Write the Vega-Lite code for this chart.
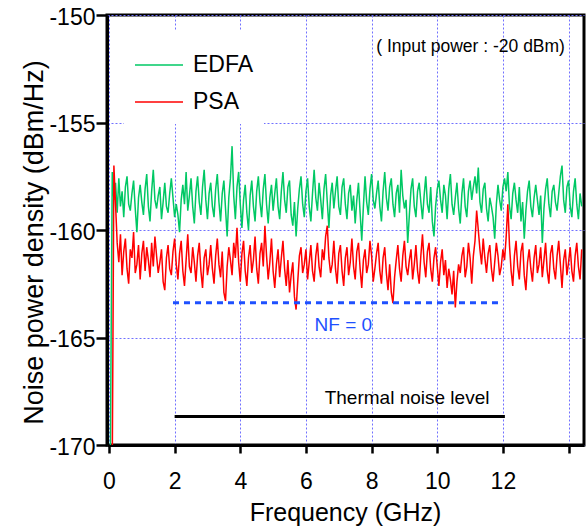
{
"$schema":"https://vega.github.io/schema/vega-lite/v6.json",
"width":477,"height":430,
"autosize":{"type":"none"},
"padding":{"left":107,"top":15,"right":3,"bottom":81},
"background":"white",
"config":{"font":"Liberation Sans","view":{"stroke":"black","strokeWidth":3}},
"datasets":{
"trace":[
{"f":0.04,"EDFA":-171},
{"f":0.1,"EDFA":-157.3,"PSA":-171},{"f":0.15,"EDFA":-158.6,"PSA":-157.0},{"f":0.2,"EDFA":-157.8,"PSA":-158.8},{"f":0.25,"EDFA":-159.2,"PSA":-160.6},{"f":0.3,"EDFA":-157.6,"PSA":-161.5},{"f":0.35,"EDFA":-158.9,"PSA":-160.2},{"f":0.4,"EDFA":-158.2,"PSA":-162.1},{"f":0.45,"EDFA":-159.4,"PSA":-161.0},{"f":0.5,"EDFA":-158.0,"PSA":-160.4},{"f":0.55,"EDFA":-157.5,"PSA":-161.8},{"f":0.6,"EDFA":-158.8,"PSA":-162.5},{"f":0.65,"EDFA":-159.1,"PSA":-160.9},{"f":0.7,"EDFA":-158.3,"PSA":-161.3},{"f":0.75,"EDFA":-157.7,"PSA":-160.1},{"f":0.8,"EDFA":-159.0,"PSA":-162.0},{"f":0.85,"EDFA":-160.1,"PSA":-161.6},{"f":0.9,"EDFA":-158.5,"PSA":-160.7},{"f":0.95,"EDFA":-157.9,"PSA":-162.3},{"f":1.0,"EDFA":-158.7,"PSA":-161.1},{"f":1.05,"EDFA":-159.3,"PSA":-160.5},
{"f":1.1,"EDFA":-158.1,"PSA":-161.9},{"f":1.15,"EDFA":-157.4,"PSA":-160.8},{"f":1.2,"EDFA":-158.9,"PSA":-161.4},{"f":1.25,"EDFA":-159.6,"PSA":-162.2},{"f":1.3,"EDFA":-158.2,"PSA":-160.6},{"f":1.35,"EDFA":-157.2,"PSA":-161.7},{"f":1.4,"EDFA":-158.6,"PSA":-160.3},{"f":1.45,"EDFA":-159.0,"PSA":-161.2},{"f":1.5,"EDFA":-158.4,"PSA":-162.0},{"f":1.55,"EDFA":-158.0,"PSA":-161.5},{"f":1.6,"EDFA":-159.5,"PSA":-160.9},{"f":1.65,"EDFA":-158.7,"PSA":-162.4},{"f":1.7,"EDFA":-157.8,"PSA":-162.8},{"f":1.75,"EDFA":-158.9,"PSA":-161.3},{"f":1.8,"EDFA":-159.2,"PSA":-160.7},{"f":1.85,"EDFA":-158.3,"PSA":-161.8},{"f":1.9,"EDFA":-157.6,"PSA":-162.1},{"f":1.95,"EDFA":-158.5,"PSA":-161.0},{"f":2.0,"EDFA":-159.4,"PSA":-160.4},{"f":2.05,"EDFA":-158.8,"PSA":-161.6},
{"f":2.1,"EDFA":-159.3,"PSA":-162.3},{"f":2.15,"EDFA":-160.1,"PSA":-161.1},{"f":2.2,"EDFA":-158.6,"PSA":-160.5},{"f":2.25,"EDFA":-157.9,"PSA":-161.9},{"f":2.3,"EDFA":-158.8,"PSA":-162.6},{"f":2.35,"EDFA":-157.3,"PSA":-161.4},{"f":2.4,"EDFA":-159.1,"PSA":-160.2},{"f":2.45,"EDFA":-158.4,"PSA":-161.7},{"f":2.5,"EDFA":-157.6,"PSA":-162.0},{"f":2.55,"EDFA":-158.9,"PSA":-160.8},{"f":2.6,"EDFA":-159.7,"PSA":-161.5},{"f":2.65,"EDFA":-158.2,"PSA":-162.4},{"f":2.7,"EDFA":-157.5,"PSA":-161.2},{"f":2.75,"EDFA":-158.7,"PSA":-160.6},{"f":2.8,"EDFA":-159.3,"PSA":-161.9},{"f":2.85,"EDFA":-158.0,"PSA":-162.7},{"f":2.9,"EDFA":-157.2,"PSA":-161.3},{"f":2.95,"EDFA":-158.6,"PSA":-160.9},{"f":3.0,"EDFA":-159.5,"PSA":-162.1},{"f":3.05,"EDFA":-158.3,"PSA":-161.6},
{"f":3.1,"EDFA":-157.8,"PSA":-160.7},{"f":3.15,"EDFA":-158.9,"PSA":-161.8},{"f":3.2,"EDFA":-159.4,"PSA":-162.5},{"f":3.25,"EDFA":-158.1,"PSA":-161.2},{"f":3.3,"EDFA":-157.4,"PSA":-160.4},{"f":3.35,"EDFA":-158.7,"PSA":-161.6},{"f":3.4,"EDFA":-159.6,"PSA":-162.2},{"f":3.45,"EDFA":-158.3,"PSA":-161.0},{"f":3.5,"EDFA":-157.7,"PSA":-162.9},{"f":3.55,"EDFA":-159.0,"PSA":-163.3},{"f":3.6,"EDFA":-160.3,"PSA":-161.7},{"f":3.65,"EDFA":-158.5,"PSA":-160.8},{"f":3.7,"EDFA":-157.6,"PSA":-161.4},{"f":3.75,"EDFA":-156.1,"PSA":-162.1},{"f":3.8,"EDFA":-158.4,"PSA":-160.6},{"f":3.85,"EDFA":-159.5,"PSA":-161.3},{"f":3.9,"EDFA":-158.0,"PSA":-159.9},{"f":3.95,"EDFA":-157.3,"PSA":-161.5},{"f":4.0,"EDFA":-158.8,"PSA":-162.4},{"f":4.05,"EDFA":-159.9,"PSA":-161.1},
{"f":4.1,"EDFA":-158.6,"PSA":-160.5},{"f":4.15,"EDFA":-157.9,"PSA":-161.9},{"f":4.2,"EDFA":-159.2,"PSA":-162.6},{"f":4.25,"EDFA":-160.0,"PSA":-161.3},{"f":4.3,"EDFA":-158.4,"PSA":-160.7},{"f":4.35,"EDFA":-157.7,"PSA":-162.0},{"f":4.4,"EDFA":-158.9,"PSA":-161.4},{"f":4.45,"EDFA":-159.6,"PSA":-160.3},{"f":4.5,"EDFA":-158.2,"PSA":-161.8},{"f":4.55,"EDFA":-157.5,"PSA":-162.5},{"f":4.6,"EDFA":-158.7,"PSA":-161.1},{"f":4.65,"EDFA":-159.4,"PSA":-160.6},{"f":4.7,"EDFA":-158.1,"PSA":-161.7},{"f":4.75,"EDFA":-157.4,"PSA":-159.8},{"f":4.8,"EDFA":-158.8,"PSA":-161.2},{"f":4.85,"EDFA":-159.7,"PSA":-162.3},{"f":4.9,"EDFA":-158.5,"PSA":-161.5},{"f":4.95,"EDFA":-157.9,"PSA":-160.4},{"f":5.0,"EDFA":-159.1,"PSA":-161.9},{"f":5.05,"EDFA":-158.3,"PSA":-162.7},
{"f":5.1,"EDFA":-157.6,"PSA":-161.6},{"f":5.15,"EDFA":-158.9,"PSA":-160.9},{"f":5.2,"EDFA":-159.5,"PSA":-162.2},{"f":5.25,"EDFA":-158.2,"PSA":-161.3},{"f":5.3,"EDFA":-157.3,"PSA":-160.5},{"f":5.35,"EDFA":-158.6,"PSA":-161.8},{"f":5.4,"EDFA":-159.2,"PSA":-162.6},{"f":5.45,"EDFA":-158.0,"PSA":-161.4},{"f":5.5,"EDFA":-157.7,"PSA":-162.9},{"f":5.55,"EDFA":-159.3,"PSA":-162.1},{"f":5.6,"EDFA":-159.8,"PSA":-161.5},{"f":5.65,"EDFA":-158.7,"PSA":-163.1},{"f":5.7,"EDFA":-160.3,"PSA":-163.7},{"f":5.75,"EDFA":-159.0,"PSA":-162.4},{"f":5.8,"EDFA":-158.1,"PSA":-161.2},{"f":5.85,"EDFA":-157.5,"PSA":-160.8},{"f":5.9,"EDFA":-158.8,"PSA":-162.0},{"f":5.95,"EDFA":-159.4,"PSA":-161.6},{"f":6.0,"EDFA":-158.2,"PSA":-160.9},{"f":6.05,"EDFA":-157.6,"PSA":-162.3},
{"f":6.1,"EDFA":-158.9,"PSA":-161.5},{"f":6.15,"EDFA":-159.6,"PSA":-160.7},{"f":6.2,"EDFA":-158.3,"PSA":-161.9},{"f":6.25,"EDFA":-157.2,"PSA":-162.4},{"f":6.3,"EDFA":-158.5,"PSA":-161.2},{"f":6.35,"EDFA":-159.1,"PSA":-160.6},{"f":6.4,"EDFA":-157.8,"PSA":-161.7},{"f":6.45,"EDFA":-158.6,"PSA":-162.2},{"f":6.5,"EDFA":-159.5,"PSA":-160.9},{"f":6.55,"EDFA":-158.1,"PSA":-161.4},{"f":6.6,"EDFA":-157.4,"PSA":-160.3},{"f":6.65,"EDFA":-158.7,"PSA":-159.8},{"f":6.7,"EDFA":-159.9,"PSA":-161.3},{"f":6.75,"EDFA":-158.4,"PSA":-162.0},{"f":6.8,"EDFA":-157.8,"PSA":-161.6},{"f":6.85,"EDFA":-159.0,"PSA":-160.5},{"f":6.9,"EDFA":-158.2,"PSA":-161.8},{"f":6.95,"EDFA":-157.5,"PSA":-162.5},{"f":7.0,"EDFA":-158.9,"PSA":-161.1},{"f":7.05,"EDFA":-159.3,"PSA":-160.7},
{"f":7.1,"EDFA":-158.0,"PSA":-161.9},{"f":7.15,"EDFA":-157.6,"PSA":-162.6},{"f":7.2,"EDFA":-158.8,"PSA":-161.3},{"f":7.25,"EDFA":-159.5,"PSA":-160.8},{"f":7.3,"EDFA":-158.3,"PSA":-162.1},{"f":7.35,"EDFA":-157.9,"PSA":-161.5},{"f":7.4,"EDFA":-159.1,"PSA":-160.4},{"f":7.45,"EDFA":-158.4,"PSA":-161.7},{"f":7.5,"EDFA":-159.7,"PSA":-162.3},{"f":7.55,"EDFA":-158.6,"PSA":-161.0},{"f":7.6,"EDFA":-157.8,"PSA":-160.6},{"f":7.65,"EDFA":-159.2,"PSA":-161.8},{"f":7.7,"EDFA":-160.5,"PSA":-162.7},{"f":7.75,"EDFA":-158.9,"PSA":-161.4},{"f":7.8,"EDFA":-157.5,"PSA":-160.9},{"f":7.85,"EDFA":-158.7,"PSA":-162.0},{"f":7.9,"EDFA":-159.3,"PSA":-161.6},{"f":7.95,"EDFA":-158.1,"PSA":-160.5},{"f":8.0,"EDFA":-157.4,"PSA":-161.2},{"f":8.05,"EDFA":-158.6,"PSA":-162.4},
{"f":8.1,"EDFA":-159.0,"PSA":-161.8},{"f":8.15,"EDFA":-158.3,"PSA":-161.1},{"f":8.2,"EDFA":-157.7,"PSA":-160.6},{"f":8.25,"EDFA":-158.9,"PSA":-161.9},{"f":8.3,"EDFA":-159.6,"PSA":-162.5},{"f":8.35,"EDFA":-158.2,"PSA":-161.3},{"f":8.4,"EDFA":-157.3,"PSA":-160.8},{"f":8.45,"EDFA":-158.5,"PSA":-162.0},{"f":8.5,"EDFA":-159.1,"PSA":-162.8},{"f":8.55,"EDFA":-158.0,"PSA":-161.6},{"f":8.6,"EDFA":-157.6,"PSA":-162.9},{"f":8.65,"EDFA":-158.8,"PSA":-163.4},{"f":8.7,"EDFA":-159.4,"PSA":-162.2},{"f":8.75,"EDFA":-158.3,"PSA":-161.4},{"f":8.8,"EDFA":-157.9,"PSA":-160.7},{"f":8.85,"EDFA":-159.2,"PSA":-161.8},{"f":8.9,"EDFA":-157.2,"PSA":-162.4},{"f":8.95,"EDFA":-158.4,"PSA":-161.2},{"f":9.0,"EDFA":-159.0,"PSA":-160.5},{"f":9.05,"EDFA":-158.6,"PSA":-161.7},
{"f":9.1,"EDFA":-160.6,"PSA":-162.1},{"f":9.15,"EDFA":-159.3,"PSA":-161.4},{"f":9.2,"EDFA":-158.1,"PSA":-160.9},{"f":9.25,"EDFA":-157.6,"PSA":-162.3},{"f":9.3,"EDFA":-158.9,"PSA":-161.6},{"f":9.35,"EDFA":-159.4,"PSA":-160.7},{"f":9.4,"EDFA":-158.2,"PSA":-161.9},{"f":9.45,"EDFA":-157.8,"PSA":-162.5},{"f":9.5,"EDFA":-158.7,"PSA":-161.2},{"f":9.55,"EDFA":-159.5,"PSA":-160.2},{"f":9.6,"EDFA":-158.4,"PSA":-161.5},{"f":9.65,"EDFA":-157.5,"PSA":-162.2},{"f":9.7,"EDFA":-158.8,"PSA":-161.0},{"f":9.75,"EDFA":-159.2,"PSA":-160.6},{"f":9.8,"EDFA":-158.0,"PSA":-161.8},{"f":9.85,"EDFA":-159.6,"PSA":-162.4},{"f":9.9,"EDFA":-160.3,"PSA":-161.3},{"f":9.95,"EDFA":-158.9,"PSA":-160.8},{"f":10.0,"EDFA":-158.1,"PSA":-161.7},{"f":10.05,"EDFA":-157.7,"PSA":-162.6},
{"f":10.1,"EDFA":-158.6,"PSA":-161.5},{"f":10.15,"EDFA":-159.2,"PSA":-160.9},{"f":10.2,"EDFA":-157.9,"PSA":-162.1},{"f":10.25,"EDFA":-158.4,"PSA":-161.4},{"f":10.3,"EDFA":-159.5,"PSA":-162.7},{"f":10.35,"EDFA":-158.1,"PSA":-161.8},{"f":10.4,"EDFA":-157.4,"PSA":-162.3},{"f":10.45,"EDFA":-158.8,"PSA":-163.0},{"f":10.5,"EDFA":-159.3,"PSA":-161.9},{"f":10.55,"EDFA":-158.5,"PSA":-163.6},{"f":10.6,"EDFA":-157.8,"PSA":-162.4},{"f":10.65,"EDFA":-159.0,"PSA":-161.6},{"f":10.7,"EDFA":-159.7,"PSA":-162.0},{"f":10.75,"EDFA":-158.3,"PSA":-161.2},{"f":10.8,"EDFA":-157.6,"PSA":-160.8},{"f":10.85,"EDFA":-158.9,"PSA":-162.2},{"f":10.9,"EDFA":-159.4,"PSA":-161.7},{"f":10.95,"EDFA":-158.2,"PSA":-160.6},{"f":11.0,"EDFA":-157.7,"PSA":-161.3},{"f":11.05,"EDFA":-158.6,"PSA":-162.5},
{"f":11.1,"EDFA":-158.0,"PSA":-161.2},{"f":11.15,"EDFA":-157.5,"PSA":-160.5},{"f":11.2,"EDFA":-158.3,"PSA":-159.1},{"f":11.25,"EDFA":-157.1,"PSA":-160.0},{"f":11.3,"EDFA":-158.7,"PSA":-160.9},{"f":11.35,"EDFA":-159.2,"PSA":-161.6},{"f":11.4,"EDFA":-158.1,"PSA":-160.4},{"f":11.45,"EDFA":-157.8,"PSA":-161.3},{"f":11.5,"EDFA":-159.0,"PSA":-162.0},{"f":11.55,"EDFA":-159.6,"PSA":-161.1},{"f":11.6,"EDFA":-158.5,"PSA":-160.7},{"f":11.65,"EDFA":-158.9,"PSA":-161.8},{"f":11.7,"EDFA":-159.4,"PSA":-162.4},{"f":11.75,"EDFA":-160.4,"PSA":-161.5},{"f":11.8,"EDFA":-158.8,"PSA":-160.6},{"f":11.85,"EDFA":-157.9,"PSA":-161.2},{"f":11.9,"EDFA":-158.6,"PSA":-162.1},{"f":11.95,"EDFA":-159.1,"PSA":-161.7},{"f":12.0,"EDFA":-158.0,"PSA":-160.9},{"f":12.05,"EDFA":-157.6,"PSA":-161.4},
{"f":12.1,"EDFA":-158.2,"PSA":-160.3},{"f":12.15,"EDFA":-157.3,"PSA":-158.8},{"f":12.2,"EDFA":-158.9,"PSA":-160.7},{"f":12.25,"EDFA":-159.5,"PSA":-161.9},{"f":12.3,"EDFA":-158.3,"PSA":-162.6},{"f":12.35,"EDFA":-157.8,"PSA":-161.2},{"f":12.4,"EDFA":-158.6,"PSA":-160.5},{"f":12.45,"EDFA":-159.2,"PSA":-161.7},{"f":12.5,"EDFA":-158.0,"PSA":-162.3},{"f":12.55,"EDFA":-159.6,"PSA":-161.0},{"f":12.6,"EDFA":-158.7,"PSA":-160.6},{"f":12.65,"EDFA":-160.4,"PSA":-162.1},{"f":12.7,"EDFA":-159.1,"PSA":-162.8},{"f":12.75,"EDFA":-158.2,"PSA":-161.5},{"f":12.8,"EDFA":-157.7,"PSA":-160.9},{"f":12.85,"EDFA":-158.9,"PSA":-161.8},{"f":12.9,"EDFA":-159.4,"PSA":-162.4},{"f":12.95,"EDFA":-158.5,"PSA":-161.3},{"f":13.0,"EDFA":-157.9,"PSA":-160.7},{"f":13.05,"EDFA":-158.6,"PSA":-162.0},
{"f":13.1,"EDFA":-159.3,"PSA":-161.6},{"f":13.15,"EDFA":-158.4,"PSA":-160.8},{"f":13.2,"EDFA":-160.6,"PSA":-162.2},{"f":13.25,"EDFA":-159.0,"PSA":-161.4},{"f":13.3,"EDFA":-158.1,"PSA":-160.6},{"f":13.35,"EDFA":-157.6,"PSA":-161.9},{"f":13.4,"EDFA":-158.8,"PSA":-162.5},{"f":13.45,"EDFA":-159.4,"PSA":-161.1},{"f":13.5,"EDFA":-158.2,"PSA":-160.7},{"f":13.55,"EDFA":-157.9,"PSA":-161.8},{"f":13.6,"EDFA":-158.7,"PSA":-162.3},{"f":13.65,"EDFA":-159.1,"PSA":-161.2},{"f":13.7,"EDFA":-158.3,"PSA":-160.5},{"f":13.75,"EDFA":-157.5,"PSA":-161.6},{"f":13.8,"EDFA":-157.0,"PSA":-162.7},{"f":13.85,"EDFA":-158.6,"PSA":-161.4},{"f":13.9,"EDFA":-159.2,"PSA":-160.9},{"f":13.95,"EDFA":-158.0,"PSA":-162.1},{"f":14.0,"EDFA":-157.7,"PSA":-161.5},{"f":14.05,"EDFA":-158.9,"PSA":-160.8},
{"f":14.1,"EDFA":-159.4,"PSA":-161.9},{"f":14.15,"EDFA":-158.2,"PSA":-162.4},{"f":14.2,"EDFA":-157.6,"PSA":-161.2},{"f":14.25,"EDFA":-158.8,"PSA":-160.6},{"f":14.3,"EDFA":-159.5,"PSA":-161.7},{"f":14.35,"EDFA":-158.3,"PSA":-162.3},{"f":14.4,"EDFA":-158.9,"PSA":-160.9}
]
},
"layer":[
{
"data":{"name":"trace"},
"transform":[{"fold":["EDFA","PSA"],"as":["series","v"]}],
"mark":{"type":"line","strokeWidth":1.5,"clip":true},
"encoding":{
"x":{"field":"f","type":"quantitative","scale":{"domain":[-0.06,14.47],"nice":false,"zero":false},
"axis":{"values":[0,2,4,6,8,10,12,14],"labelExpr":"datum.value == 14 ? '' : datum.label","domainColor":"black","domainWidth":3,"tickColor":"black","tickWidth":2.5,"tickSize":8,"labelFontSize":23,"labelColor":"black","labelBaseline":"alphabetic","labelPadding":35,"labelFlush":false,"labelOverlap":false,
"title":"Frequency (GHz)","titleFontSize":25,"titleFontWeight":"normal","titleColor":"black","titleBaseline":"alphabetic","titleY":75,"titleX":238,
"grid":true,"gridColor":"#7070ff","gridDash":[2,2],"gridWidth":1}},
"y":{"field":"v","type":"quantitative","scale":{"domain":[-170,-150],"nice":false,"zero":false},
"axis":{"values":[-170,-165,-160,-155,-150],"labelExpr":"'-' + abs(datum.value)","domainColor":"black","domainWidth":3,"tickColor":"black","tickWidth":2.5,"tickSize":11,"labelFontSize":23,"labelColor":"black","labelPadding":1,"labelBaseline":"middle","labelOffset":2,"labelFlush":false,"labelOverlap":false,
"title":"Noise power density (dBm/Hz)","titleFontSize":27,"titleFontWeight":"normal","titleColor":"black","titleAngle":-90,"titleAlign":"center","titleBaseline":"alphabetic","titleX":-65,"titleY":227,
"grid":true,"gridColor":"#7070ff","gridDash":[2,2],"gridWidth":1}},
"color":{"field":"series","type":"nominal","scale":{"domain":["EDFA","PSA"],"range":["#00c864","#ff0000"]},
"legend":{"orient":"none","legendX":17,"legendY":15,"title":null,"symbolType":"stroke","symbolSize":2304,"symbolStrokeWidth":1.5,"labelFontSize":23,"labelColor":"black","labelOffset":9,"rowPadding":-13,"fillColor":"white","padding":10}}
}
},
{
"data":{"values":[{"f1":1.95,"f2":12.0,"y":-163.38}]},
"mark":{"type":"rule","color":"#1e50ff","strokeWidth":3,"strokeDash":[6,5]},
"encoding":{"x":{"field":"f1","type":"quantitative","scale":{"domain":[-0.06,14.47],"nice":false,"zero":false}},"x2":{"field":"f2"},"y":{"field":"y","type":"quantitative","scale":{"domain":[-170,-150],"nice":false,"zero":false}}}
},
{
"data":{"values":[{"f1":2.0,"f2":12.06,"y":-168.68}]},
"mark":{"type":"rule","color":"black","strokeWidth":3},
"encoding":{"x":{"field":"f1","type":"quantitative","scale":{"domain":[-0.06,14.47],"nice":false,"zero":false}},"x2":{"field":"f2"},"y":{"field":"y","type":"quantitative","scale":{"domain":[-170,-150],"nice":false,"zero":false}}}
},
{
"data":{"values":[{"f":13.89,"y":-151.49,"t":"( Input power : -20 dBm)"}]},
"mark":{"type":"text","align":"right","baseline":"middle","fontSize":17.5,"color":"black"},
"encoding":{"x":{"field":"f","type":"quantitative","scale":{"domain":[-0.06,14.47],"nice":false,"zero":false}},"y":{"field":"y","type":"quantitative","scale":{"domain":[-170,-150],"nice":false,"zero":false}},"text":{"field":"t"}}
},
{
"data":{"values":[{"f":7.14,"y":-164.42,"t":"NF = 0"}]},
"mark":{"type":"text","align":"center","baseline":"middle","fontSize":19,"color":"#1e50ff"},
"encoding":{"x":{"field":"f","type":"quantitative","scale":{"domain":[-0.06,14.47],"nice":false,"zero":false}},"y":{"field":"y","type":"quantitative","scale":{"domain":[-170,-150],"nice":false,"zero":false}},"text":{"field":"t"}}
},
{
"data":{"values":[{"f":9.08,"y":-167.81,"t":"Thermal noise level"}]},
"mark":{"type":"text","align":"center","baseline":"middle","fontSize":19,"color":"black"},
"encoding":{"x":{"field":"f","type":"quantitative","scale":{"domain":[-0.06,14.47],"nice":false,"zero":false}},"y":{"field":"y","type":"quantitative","scale":{"domain":[-170,-150],"nice":false,"zero":false}},"text":{"field":"t"}}
}
]
}
